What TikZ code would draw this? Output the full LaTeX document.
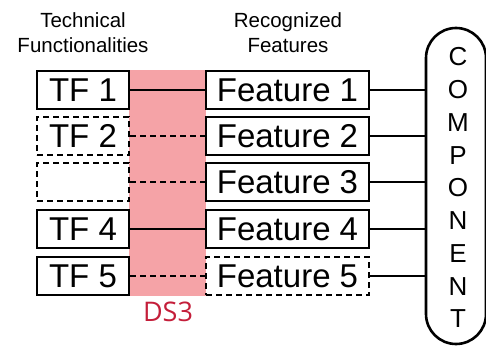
\documentclass[tikz,border=0pt]{standalone}
\usepackage{fontspec}
\setmainfont{Liberation Sans}
\newfontfamily\dsfont{Open Sans}
\definecolor{band}{HTML}{F5A3A7}
\definecolor{dsred}{HTML}{C41E3A}
\tikzset{
  box/.style={draw, line width=2.8pt, minimum width=92pt, minimum height=38pt, inner sep=0pt, font=\fontsize{33}{33}\selectfont},
  fbox/.style={box, minimum width=163pt},
  dbox/.style={dash pattern=on 6pt off 4pt},
  conn/.style={line width=2.6pt},
  dconn/.style={conn, dash pattern=on 6pt off 4pt},
  hdr/.style={align=center, font=\fontsize{20.5}{25}\selectfont},
  letter/.style={font=\fontsize{26}{26}\selectfont, inner sep=0pt}
}
\begin{document}
\begin{tikzpicture}[x=1pt,y=1pt]
\useasboundingbox (0,0) rectangle (486,-345);
\fill[band] (129,-70) rectangle (206,-296);
\node[hdr] (h1) at (83,-33) {Technical\\Functionalities};
\node[hdr] (h2) at (288,-33) {Recognized\\Features};
\node[box] (t1) at (83,-90) {TF 1};
\node[box,dbox] (t2) at (83,-136) {TF 2};
\node[box,dbox] (t3) at (83,-182) {};
\node[box] (t4) at (83,-229) {TF 4};
\node[box] (t5) at (83,-276) {TF 5};
\node[fbox] (f1) at (287.5,-90) {Feature 1};
\node[fbox] (f2) at (287.5,-136) {Feature 2};
\node[fbox] (f3) at (287.5,-182) {Feature 3};
\node[fbox] (f4) at (287.5,-229) {Feature 4};
\node[fbox,dbox] (f5) at (287.5,-276) {Feature 5};
\node[draw, line width=2.6pt, rounded corners=30pt, minimum width=60pt, minimum height=316pt, inner sep=0pt] (comp) at (456,-186) {};
\node[text=dsred, font=\dsfont\fontsize{27}{27}\selectfont] (ds) at (168,-312) {DS3};
\foreach \l [count=\i from 0] in {C,O,M,P,O,N,E,N,T}{
  \node[letter] (c\i) at (458,{-57-32.75*\i}) {\l};
}
\draw[conn] (t1) -- (f1);
\draw[dconn] (t2) -- (f2);
\draw[dconn] (t3) -- (f3);
\draw[conn] (t4) -- (f4);
\draw[dconn] (t5) -- (f5);
\foreach \i in {1,...,5}{
  \draw[conn] (f\i.east) -- (comp.west |- f\i.east);
}
\end{tikzpicture}
\end{document}
